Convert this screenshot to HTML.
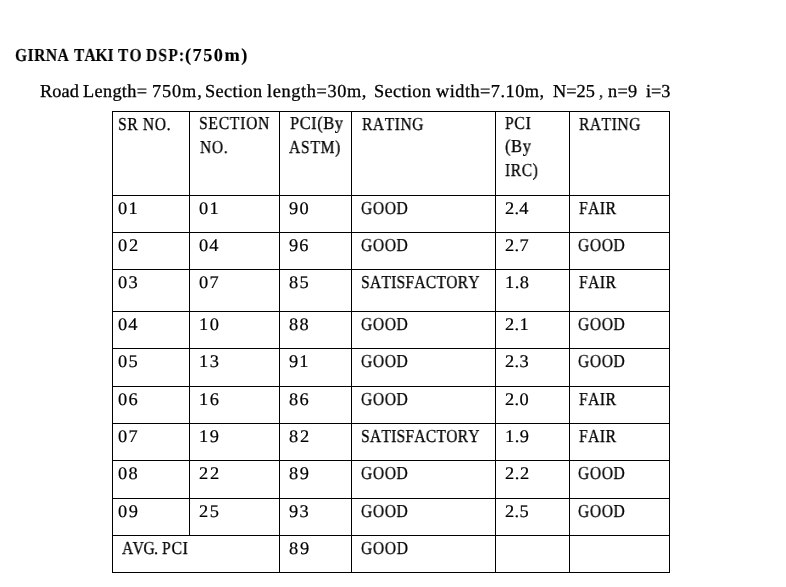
<!DOCTYPE html>
<html><head><meta charset="utf-8"><style>
html,body{margin:0;padding:0;background:#fff;width:786px;height:587px;overflow:hidden;position:relative}
.t{position:absolute;white-space:pre;font-family:"Liberation Serif",serif;color:#000;transform-origin:0 0;font-kerning:none;text-rendering:geometricPrecision;will-change:transform;-webkit-text-stroke:0.3px #000}
.h{position:absolute;height:1px;background:#000}
.v{position:absolute;width:1px;background:#000}
</style></head><body>
<div class="h" style="left:112px;top:111px;width:558px"></div>
<div class="h" style="left:112px;top:195px;width:558px"></div>
<div class="h" style="left:112px;top:232px;width:558px"></div>
<div class="h" style="left:112px;top:269px;width:558px"></div>
<div class="h" style="left:112px;top:311px;width:558px"></div>
<div class="h" style="left:112px;top:348px;width:558px"></div>
<div class="h" style="left:112px;top:386px;width:558px"></div>
<div class="h" style="left:112px;top:423px;width:558px"></div>
<div class="h" style="left:112px;top:460px;width:558px"></div>
<div class="h" style="left:112px;top:498px;width:558px"></div>
<div class="h" style="left:112px;top:535px;width:558px"></div>
<div class="h" style="left:112px;top:572px;width:558px"></div>
<div class="v" style="left:112px;top:111px;height:462px"></div>
<div class="v" style="left:189px;top:111px;height:425px"></div>
<div class="v" style="left:279px;top:111px;height:462px"></div>
<div class="v" style="left:351px;top:111px;height:462px"></div>
<div class="v" style="left:495px;top:111px;height:462px"></div>
<div class="v" style="left:569px;top:111px;height:462px"></div>
<div class="v" style="left:669px;top:111px;height:462px"></div>
<div class="t" style="left:15.04px;top:44.60px;font-size:18.3px;line-height:20px;letter-spacing:0.594px;transform:scaleX(0.8500);font-weight:bold;-webkit-text-stroke-width:0.15px">GIRNA</div>
<div class="t" style="left:73.86px;top:44.60px;font-size:18.3px;line-height:20px;letter-spacing:-0.037px;transform:scaleX(0.8500);font-weight:bold;-webkit-text-stroke-width:0.15px">TAKI</div>
<div class="t" style="left:118.16px;top:44.60px;font-size:18.3px;line-height:20px;letter-spacing:1.327px;transform:scaleX(0.8500);font-weight:bold;-webkit-text-stroke-width:0.15px">TO</div>
<div class="t" style="left:146.43px;top:44.60px;font-size:18.3px;line-height:20px;letter-spacing:1.411px;transform:scaleX(0.8500);font-weight:bold;-webkit-text-stroke-width:0.15px">DSP:</div>
<div class="t" style="left:185.40px;top:44.60px;font-size:18.3px;line-height:20px;letter-spacing:1.485px;transform:scaleX(1.0000);font-weight:bold;-webkit-text-stroke-width:0.15px">(750m)</div>
<div class="t" style="left:39.57px;top:80.80px;font-size:18.3px;line-height:20px;letter-spacing:0.107px;transform:scaleX(1.0000)">Road</div>
<div class="t" style="left:83.37px;top:80.80px;font-size:18.3px;line-height:20px;letter-spacing:0.328px;transform:scaleX(1.0000)">Length=</div>
<div class="t" style="left:151.59px;top:80.80px;font-size:18.3px;line-height:20px;letter-spacing:0.900px;transform:scaleX(1.0000)">750m,</div>
<div class="t" style="left:204.78px;top:80.80px;font-size:18.3px;line-height:20px;letter-spacing:0.385px;transform:scaleX(1.0000)">Section</div>
<div class="t" style="left:266.83px;top:80.80px;font-size:18.3px;line-height:20px;letter-spacing:0.625px;transform:scaleX(1.0000)">length=30m,</div>
<div class="t" style="left:373.58px;top:80.80px;font-size:18.3px;line-height:20px;letter-spacing:0.352px;transform:scaleX(1.0000)">Section</div>
<div class="t" style="left:435.98px;top:80.80px;font-size:18.3px;line-height:20px;letter-spacing:0.485px;transform:scaleX(1.0000)">width=7.10m,</div>
<div class="t" style="left:552.67px;top:80.80px;font-size:18.3px;line-height:20px;letter-spacing:0.035px;transform:scaleX(1.0000)">N=25</div>
<div class="t" style="left:598.91px;top:80.80px;font-size:18.3px;line-height:20px;letter-spacing:0.000px;transform:scaleX(0.8500)">,</div>
<div class="t" style="left:607.78px;top:80.80px;font-size:18.3px;line-height:20px;letter-spacing:0.275px;transform:scaleX(1.0000)">n=9</div>
<div class="t" style="left:646.02px;top:80.80px;font-size:18.3px;line-height:20px;letter-spacing:-0.028px;transform:scaleX(1.0000)">i=3</div>
<div class="t" style="left:117.66px;top:113.60px;font-size:18.3px;line-height:20px;letter-spacing:0.799px;transform:scaleX(0.8500)">SR NO.</div>
<div class="t" style="left:198.96px;top:113.00px;font-size:18.3px;line-height:20px;letter-spacing:0.926px;transform:scaleX(0.8500)">SECTION</div>
<div class="t" style="left:199.55px;top:136.60px;font-size:18.3px;line-height:20px;letter-spacing:0.834px;transform:scaleX(0.8500)">NO.</div>
<div class="t" style="left:289.53px;top:113.00px;font-size:18.3px;line-height:20px;letter-spacing:0.623px;transform:scaleX(0.9000)">PCI(By</div>
<div class="t" style="left:289.25px;top:136.60px;font-size:18.3px;line-height:20px;letter-spacing:0.894px;transform:scaleX(0.8500)">ASTM)</div>
<div class="t" style="left:361.55px;top:113.60px;font-size:18.3px;line-height:20px;letter-spacing:0.630px;transform:scaleX(0.8500)">RATING</div>
<div class="t" style="left:505.45px;top:113.00px;font-size:18.3px;line-height:20px;letter-spacing:0.935px;transform:scaleX(0.8500)">PCI</div>
<div class="t" style="left:505.48px;top:136.40px;font-size:18.3px;line-height:20px;letter-spacing:0.768px;transform:scaleX(0.9000)">(By</div>
<div class="t" style="left:505.34px;top:159.80px;font-size:18.3px;line-height:20px;letter-spacing:0.681px;transform:scaleX(0.8500)">IRC)</div>
<div class="t" style="left:578.55px;top:113.60px;font-size:18.3px;line-height:20px;letter-spacing:0.607px;transform:scaleX(0.8500)">RATING</div>
<div class="t" style="left:118.20px;top:197.90px;font-size:17.7px;line-height:20px;letter-spacing:1.153px;transform:scaleX(1.0400);-webkit-text-stroke-width:0.2px">01</div>
<div class="t" style="left:199.10px;top:197.90px;font-size:17.7px;line-height:20px;letter-spacing:1.153px;transform:scaleX(1.0400);-webkit-text-stroke-width:0.2px">01</div>
<div class="t" style="left:289.11px;top:197.90px;font-size:17.7px;line-height:20px;letter-spacing:1.237px;transform:scaleX(1.0400);-webkit-text-stroke-width:0.2px">90</div>
<div class="t" style="left:361.06px;top:197.90px;font-size:18.3px;line-height:20px;letter-spacing:0.756px;transform:scaleX(0.8500)">GOOD</div>
<div class="t" style="left:505.19px;top:197.90px;font-size:17.7px;line-height:20px;letter-spacing:0.186px;transform:scaleX(1.0400);-webkit-text-stroke-width:0.2px">2.4</div>
<div class="t" style="left:578.65px;top:197.90px;font-size:18.3px;line-height:20px;letter-spacing:0.561px;transform:scaleX(0.8500)">FAIR</div>
<div class="t" style="left:118.20px;top:234.90px;font-size:17.7px;line-height:20px;letter-spacing:1.643px;transform:scaleX(1.0400);-webkit-text-stroke-width:0.2px">02</div>
<div class="t" style="left:199.10px;top:234.90px;font-size:17.7px;line-height:20px;letter-spacing:0.943px;transform:scaleX(1.0400);-webkit-text-stroke-width:0.2px">04</div>
<div class="t" style="left:289.11px;top:234.90px;font-size:17.7px;line-height:20px;letter-spacing:1.090px;transform:scaleX(1.0400);-webkit-text-stroke-width:0.2px">96</div>
<div class="t" style="left:361.06px;top:234.90px;font-size:18.3px;line-height:20px;letter-spacing:0.756px;transform:scaleX(0.8500)">GOOD</div>
<div class="t" style="left:505.19px;top:234.90px;font-size:17.7px;line-height:20px;letter-spacing:0.303px;transform:scaleX(1.0400);-webkit-text-stroke-width:0.2px">2.7</div>
<div class="t" style="left:578.46px;top:234.90px;font-size:18.3px;line-height:20px;letter-spacing:0.756px;transform:scaleX(0.8500)">GOOD</div>
<div class="t" style="left:118.20px;top:271.90px;font-size:17.7px;line-height:20px;letter-spacing:1.358px;transform:scaleX(1.0400);-webkit-text-stroke-width:0.2px">03</div>
<div class="t" style="left:199.10px;top:271.90px;font-size:17.7px;line-height:20px;letter-spacing:1.176px;transform:scaleX(1.0400);-webkit-text-stroke-width:0.2px">07</div>
<div class="t" style="left:289.00px;top:271.90px;font-size:17.7px;line-height:20px;letter-spacing:1.358px;transform:scaleX(1.0400);-webkit-text-stroke-width:0.2px">85</div>
<div class="t" style="left:360.66px;top:271.90px;font-size:18.3px;line-height:20px;letter-spacing:0.312px;transform:scaleX(0.8500)">SATISFACTORY</div>
<div class="t" style="left:505.08px;top:271.90px;font-size:17.7px;line-height:20px;letter-spacing:0.437px;transform:scaleX(1.0400);-webkit-text-stroke-width:0.2px">1.8</div>
<div class="t" style="left:578.65px;top:271.90px;font-size:18.3px;line-height:20px;letter-spacing:0.561px;transform:scaleX(0.8500)">FAIR</div>
<div class="t" style="left:118.20px;top:313.90px;font-size:17.7px;line-height:20px;letter-spacing:0.943px;transform:scaleX(1.0400);-webkit-text-stroke-width:0.2px">04</div>
<div class="t" style="left:198.88px;top:313.90px;font-size:17.7px;line-height:20px;letter-spacing:1.549px;transform:scaleX(1.0400);-webkit-text-stroke-width:0.2px">10</div>
<div class="t" style="left:289.00px;top:313.90px;font-size:17.7px;line-height:20px;letter-spacing:1.341px;transform:scaleX(1.0400);-webkit-text-stroke-width:0.2px">88</div>
<div class="t" style="left:361.06px;top:313.90px;font-size:18.3px;line-height:20px;letter-spacing:0.756px;transform:scaleX(0.8500)">GOOD</div>
<div class="t" style="left:505.19px;top:313.90px;font-size:17.7px;line-height:20px;letter-spacing:0.291px;transform:scaleX(1.0400);-webkit-text-stroke-width:0.2px">2.1</div>
<div class="t" style="left:578.46px;top:313.90px;font-size:18.3px;line-height:20px;letter-spacing:0.756px;transform:scaleX(0.8500)">GOOD</div>
<div class="t" style="left:118.20px;top:350.90px;font-size:17.7px;line-height:20px;letter-spacing:1.358px;transform:scaleX(1.0400);-webkit-text-stroke-width:0.2px">05</div>
<div class="t" style="left:198.88px;top:350.90px;font-size:17.7px;line-height:20px;letter-spacing:1.566px;transform:scaleX(1.0400);-webkit-text-stroke-width:0.2px">13</div>
<div class="t" style="left:289.11px;top:350.90px;font-size:17.7px;line-height:20px;letter-spacing:1.049px;transform:scaleX(1.0400);-webkit-text-stroke-width:0.2px">91</div>
<div class="t" style="left:361.06px;top:350.90px;font-size:18.3px;line-height:20px;letter-spacing:0.756px;transform:scaleX(0.8500)">GOOD</div>
<div class="t" style="left:505.19px;top:350.90px;font-size:17.7px;line-height:20px;letter-spacing:0.393px;transform:scaleX(1.0400);-webkit-text-stroke-width:0.2px">2.3</div>
<div class="t" style="left:578.46px;top:350.90px;font-size:18.3px;line-height:20px;letter-spacing:0.756px;transform:scaleX(0.8500)">GOOD</div>
<div class="t" style="left:118.20px;top:388.90px;font-size:17.7px;line-height:20px;letter-spacing:1.194px;transform:scaleX(1.0400);-webkit-text-stroke-width:0.2px">06</div>
<div class="t" style="left:198.88px;top:388.90px;font-size:17.7px;line-height:20px;letter-spacing:1.402px;transform:scaleX(1.0400);-webkit-text-stroke-width:0.2px">16</div>
<div class="t" style="left:289.00px;top:388.90px;font-size:17.7px;line-height:20px;letter-spacing:1.194px;transform:scaleX(1.0400);-webkit-text-stroke-width:0.2px">86</div>
<div class="t" style="left:361.06px;top:388.90px;font-size:18.3px;line-height:20px;letter-spacing:0.756px;transform:scaleX(0.8500)">GOOD</div>
<div class="t" style="left:505.19px;top:388.90px;font-size:17.7px;line-height:20px;letter-spacing:0.385px;transform:scaleX(1.0400);-webkit-text-stroke-width:0.2px">2.0</div>
<div class="t" style="left:578.65px;top:388.90px;font-size:18.3px;line-height:20px;letter-spacing:0.561px;transform:scaleX(0.8500)">FAIR</div>
<div class="t" style="left:118.20px;top:425.90px;font-size:17.7px;line-height:20px;letter-spacing:1.176px;transform:scaleX(1.0400);-webkit-text-stroke-width:0.2px">07</div>
<div class="t" style="left:198.88px;top:425.90px;font-size:17.7px;line-height:20px;letter-spacing:1.601px;transform:scaleX(1.0400);-webkit-text-stroke-width:0.2px">19</div>
<div class="t" style="left:289.00px;top:425.90px;font-size:17.7px;line-height:20px;letter-spacing:1.643px;transform:scaleX(1.0400);-webkit-text-stroke-width:0.2px">82</div>
<div class="t" style="left:360.66px;top:425.90px;font-size:18.3px;line-height:20px;letter-spacing:0.312px;transform:scaleX(0.8500)">SATISFACTORY</div>
<div class="t" style="left:505.08px;top:425.90px;font-size:17.7px;line-height:20px;letter-spacing:0.463px;transform:scaleX(1.0400);-webkit-text-stroke-width:0.2px">1.9</div>
<div class="t" style="left:578.65px;top:425.90px;font-size:18.3px;line-height:20px;letter-spacing:0.561px;transform:scaleX(0.8500)">FAIR</div>
<div class="t" style="left:118.20px;top:462.90px;font-size:17.7px;line-height:20px;letter-spacing:1.341px;transform:scaleX(1.0400);-webkit-text-stroke-width:0.2px">08</div>
<div class="t" style="left:198.99px;top:462.90px;font-size:17.7px;line-height:20px;letter-spacing:1.747px;transform:scaleX(1.0400);-webkit-text-stroke-width:0.2px">22</div>
<div class="t" style="left:289.00px;top:462.90px;font-size:17.7px;line-height:20px;letter-spacing:1.392px;transform:scaleX(1.0400);-webkit-text-stroke-width:0.2px">89</div>
<div class="t" style="left:361.06px;top:462.90px;font-size:18.3px;line-height:20px;letter-spacing:0.756px;transform:scaleX(0.8500)">GOOD</div>
<div class="t" style="left:505.19px;top:462.90px;font-size:17.7px;line-height:20px;letter-spacing:0.536px;transform:scaleX(1.0400);-webkit-text-stroke-width:0.2px">2.2</div>
<div class="t" style="left:578.46px;top:462.90px;font-size:18.3px;line-height:20px;letter-spacing:0.756px;transform:scaleX(0.8500)">GOOD</div>
<div class="t" style="left:118.20px;top:500.90px;font-size:17.7px;line-height:20px;letter-spacing:1.392px;transform:scaleX(1.0400);-webkit-text-stroke-width:0.2px">09</div>
<div class="t" style="left:198.99px;top:500.90px;font-size:17.7px;line-height:20px;letter-spacing:1.462px;transform:scaleX(1.0400);-webkit-text-stroke-width:0.2px">25</div>
<div class="t" style="left:289.11px;top:500.90px;font-size:17.7px;line-height:20px;letter-spacing:1.254px;transform:scaleX(1.0400);-webkit-text-stroke-width:0.2px">93</div>
<div class="t" style="left:361.06px;top:500.90px;font-size:18.3px;line-height:20px;letter-spacing:0.756px;transform:scaleX(0.8500)">GOOD</div>
<div class="t" style="left:505.19px;top:500.90px;font-size:17.7px;line-height:20px;letter-spacing:0.393px;transform:scaleX(1.0400);-webkit-text-stroke-width:0.2px">2.5</div>
<div class="t" style="left:578.46px;top:500.90px;font-size:18.3px;line-height:20px;letter-spacing:0.756px;transform:scaleX(0.8500)">GOOD</div>
<div class="t" style="left:121.95px;top:537.90px;font-size:18.3px;line-height:20px;letter-spacing:-0.632px;transform:scaleX(0.8500)">AVG.</div>
<div class="t" style="left:162.25px;top:537.90px;font-size:18.3px;line-height:20px;letter-spacing:0.994px;transform:scaleX(0.8500)">PCI</div>
<div class="t" style="left:289.10px;top:537.90px;font-size:17.7px;line-height:20px;letter-spacing:1.681px;transform:scaleX(1.0400);-webkit-text-stroke-width:0.2px">89</div>
<div class="t" style="left:360.96px;top:537.90px;font-size:18.3px;line-height:20px;letter-spacing:0.834px;transform:scaleX(0.8500)">GOOD</div>
</body></html>
